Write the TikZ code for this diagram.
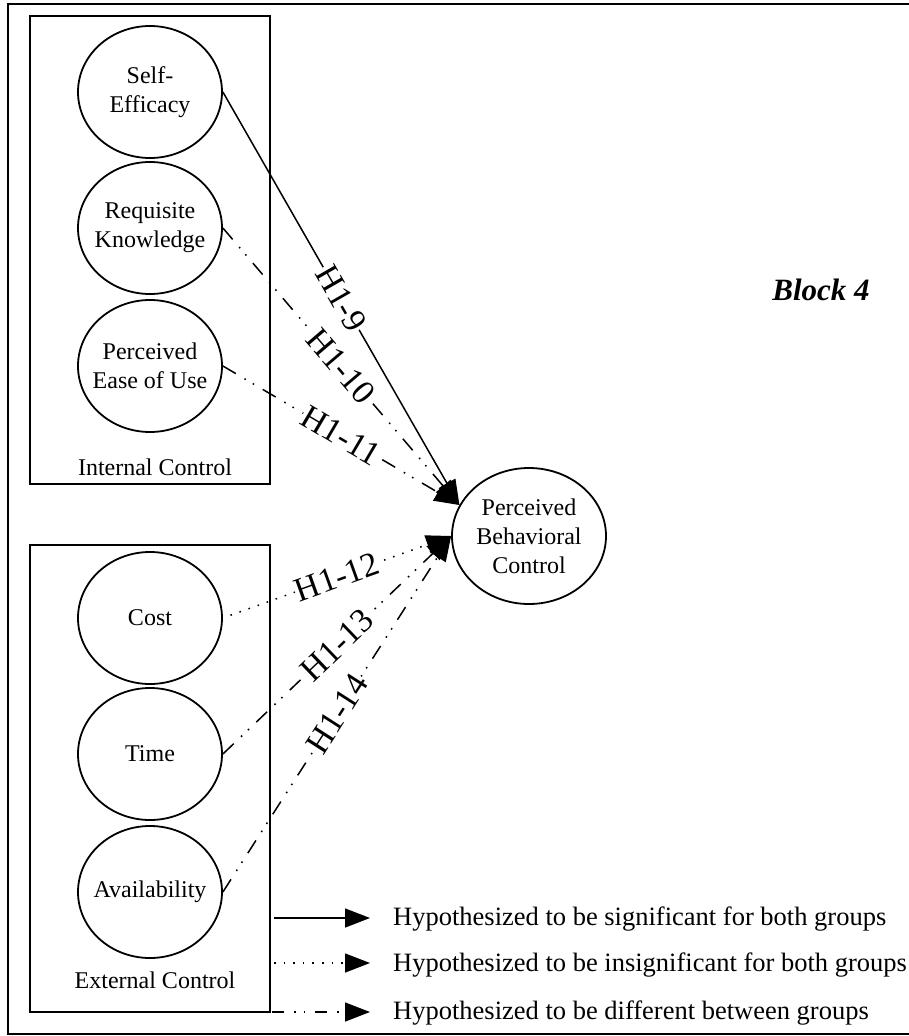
\documentclass[tikz,border=0pt]{standalone}
\usepackage{fontspec}
\setmainfont{Liberation Serif}
\usetikzlibrary{arrows.meta,shapes.geometric}

\begin{document}
\begin{tikzpicture}[x=1pt,y=-1pt,
  construct/.style={draw, ellipse, line width=1.8pt, minimum width=144pt,
    minimum height=132pt, inner sep=0pt},
  outcome/.style={construct, minimum width=154pt, minimum height=136pt},
  ctext/.style={align=center, font=\fontsize{24}{29}\selectfont, inner sep=0pt},
  groupbox/.style={draw, rectangle, line width=2.2pt, minimum width=240pt, inner sep=0pt},
  link/.style={line width=1.5pt, -{Triangle[length=25pt,width=19pt]}},
  sig/.style={link},
  insig/.style={link, dash pattern=on 1.6pt off 8pt},
  diff/.style={link, dash pattern=on 15pt off 10pt on 1.6pt off 8pt on 1.6pt off 10pt},
  hyp/.style={sloped, fill=white, inner sep=1pt, font=\fontsize{34}{34}\selectfont},
  legtext/.style={anchor=base west, font=\fontsize{26.5}{26.5}\selectfont, inner sep=0pt}
]
\useasboundingbox (0,0) rectangle (908,1036);

% outer frame (open on the right)
\draw[line width=1.6pt] (912,4) -- (8,4) -- (8,1034) -- (912,1034);

% construct groups
\node[groupbox, minimum height=468pt] (intbox) at (150,250) {};
\node[groupbox, minimum height=467pt] (extbox) at (150,778.5) {};
\node[ctext] (intlbl) at (155,467) {Internal Control};
\node[ctext] (extlbl) at (155,980) {External Control};

% internal control constructs
\node[construct] (se) at (150,92) {};
\node[ctext] (set) at (se) {Self-\\Efficacy};
\node[construct] (rk) at (150,228) {};
\node[ctext] (rkt) at (rk) {Requisite\\Knowledge};
\node[construct] (pe) at (150,366) {};
\node[ctext] (pet) at (pe) {Perceived\\Ease of Use};

% external control constructs
\node[construct] (co) at (150,618) {};
\node[ctext] (cot) at (co) {Cost};
\node[construct] (ti) at (150,754) {};
\node[ctext] (tit) at (ti) {Time};
\node[construct] (av) at (150,892) {};
\node[ctext] (avt) at (av) {Availability};

% outcome construct
\node[outcome] (pbc) at (529,536) {};
\node[ctext] (pbct) at (pbc) {Perceived\\Behavioral\\Control};

\node[font=\fontsize{31}{31}\selectfont\bfseries\itshape] (blk) at (821,290) {Block 4};

% hypothesized paths
\coordinate (hiA) at (pbc.156);
\coordinate (loA) at (pbc.west);
\draw[sig]   (se.east) -- node[hyp] {H1-9}  (hiA);
\draw[diff]  (rk.east) -- node[hyp] {H1-10} (hiA);
\draw[diff]  (pe.east) -- node[hyp] {H1-11} (hiA);
\draw[insig, shorten <=8pt] (co.east) -- node[hyp] {H1-12} (loA);
\draw[diff]  (ti.east) -- node[hyp] {H1-13} (loA);
\draw[diff]  (av.east) -- node[hyp] {H1-14} (loA);

% legend
\coordinate (l1s) at (274,918);  \coordinate (l1e) at (370,918);
\coordinate (l2s) at (274,963);  \coordinate (l2e) at (370,963);
\coordinate (l3s) at (272,1012); \coordinate (l3e) at (370,1012);
\draw[sig]   (l1s) -- (l1e);
\draw[insig] (l2s) -- (l2e);
\draw[link, dash pattern=on 12pt off 10pt on 1.6pt off 8pt on 1.6pt off 10pt] (l3s) -- (l3e);
\node[legtext] (t1) at (393,925) {Hypothesized to be significant for both groups};
\node[legtext] (t2) at (393,971) {Hypothesized to be insignificant for both groups};
\node[legtext] (t3) at (393,1019) {Hypothesized to be different between groups};
\end{tikzpicture}
\end{document}
